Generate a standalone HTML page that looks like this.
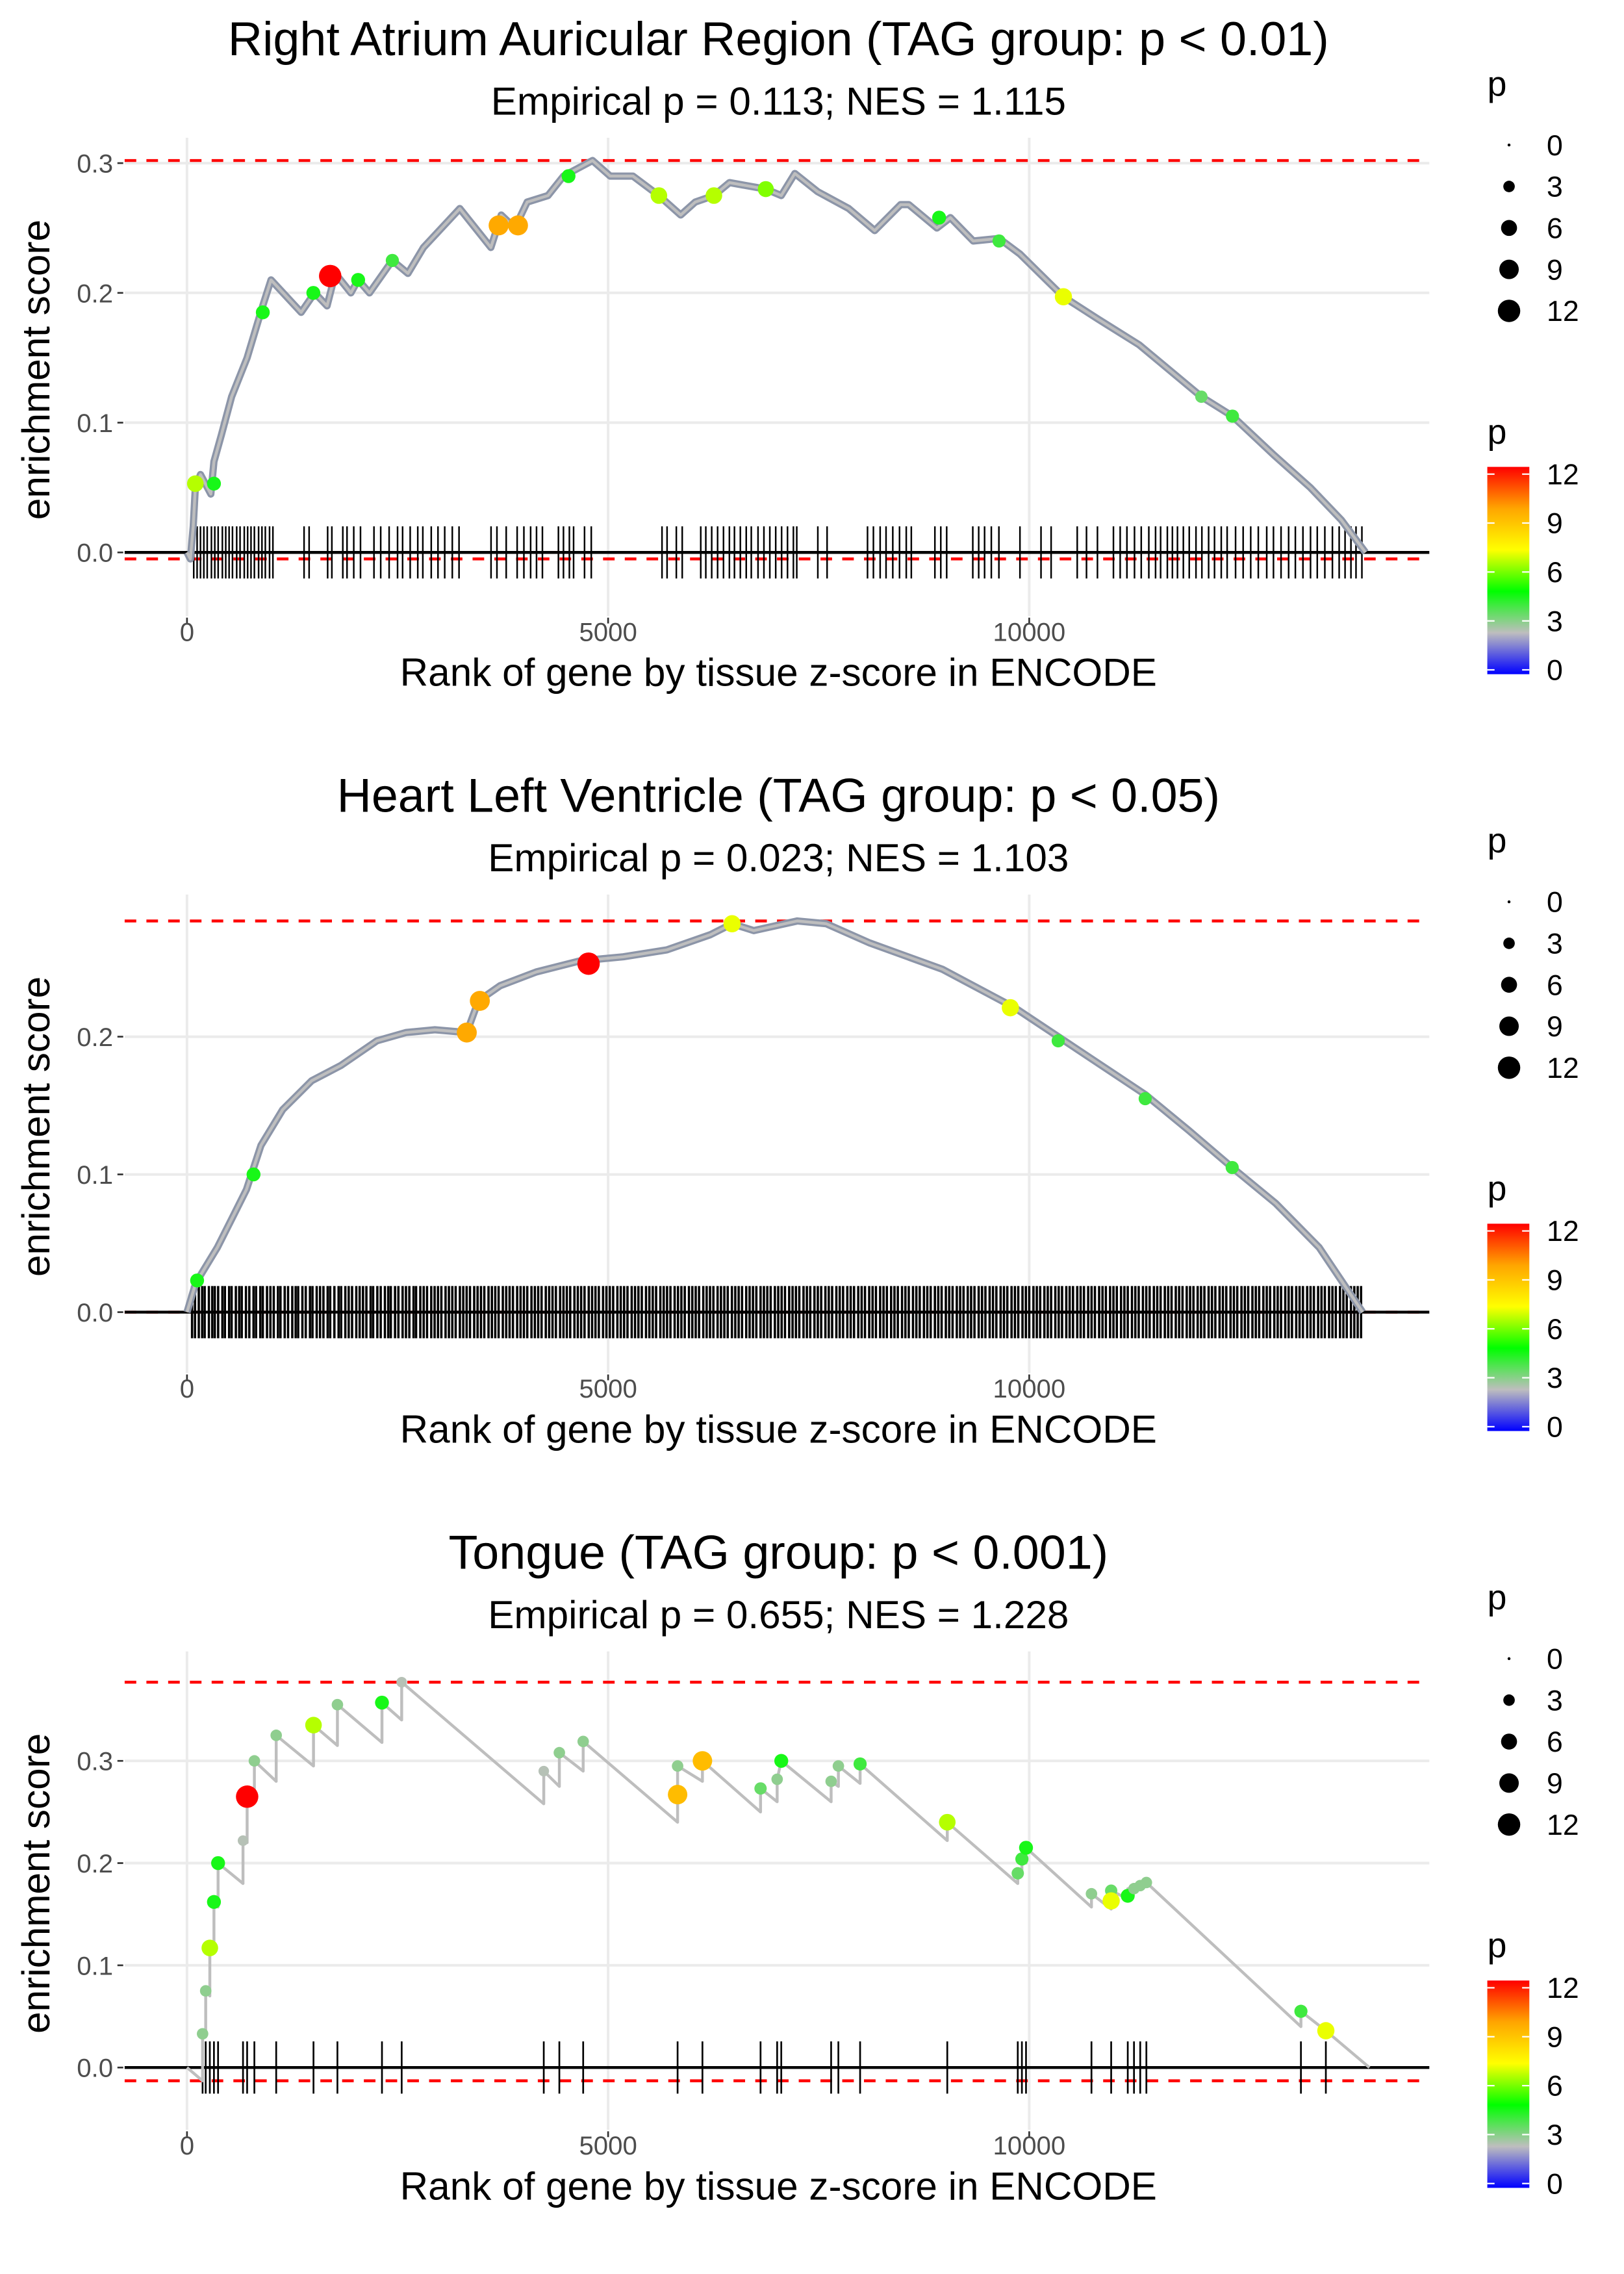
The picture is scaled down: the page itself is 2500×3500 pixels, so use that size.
<!DOCTYPE html>
<html><head><meta charset="utf-8"><style>
html,body{margin:0;padding:0;background:#fff;}
svg{display:block;font-family:"Liberation Sans",Arial,sans-serif;}
</style></head><body>
<svg id="chart" xmlns="http://www.w3.org/2000/svg" width="2500" height="3500" viewBox="0 0 1120.3 1568.4">
<defs>
<linearGradient id="pgrad" x1="0" y1="1" x2="0" y2="0">
<stop offset="0" stop-color="#0000ff"/><stop offset="0.2" stop-color="#bebebe"/><stop offset="0.4" stop-color="#00ff00"/><stop offset="0.6" stop-color="#ffff00"/><stop offset="0.8" stop-color="#ffa500"/><stop offset="1" stop-color="#ff0000"/>
</linearGradient>
</defs>
</svg>
<script>
// ---------- Panel 1: Right Atrium Auricular Region ----------
const p1PathRank = [0,40,74,99,160,283,320,406,530,714,899,998,1355,1515,1663,1761,1946,2032,2167,2438,2623,2808,3239,3608,3731,3892,4039,4286,4470,4815,5025,5295,5603,5862,6034,6256,6441,6872,7056,7217,7488,7857,8165,8473,8571,8904,9064,9335,9642,9889,10406,10812,11305,12044,12413,12906,13337,13706,13993];
const p1PathES = [0,-0.005,0.02,0.05,0.06,0.045,0.07,0.09,0.12,0.15,0.19,0.21,0.185,0.2,0.19,0.215,0.2,0.21,0.2,0.225,0.215,0.235,0.265,0.235,0.26,0.25,0.27,0.275,0.29,0.302,0.29,0.29,0.275,0.26,0.27,0.275,0.285,0.28,0.275,0.292,0.278,0.265,0.248,0.268,0.268,0.25,0.258,0.24,0.242,0.23,0.197,0.18,0.16,0.12,0.105,0.075,0.05,0.025,0];
const p1HitRank = [1700,3700,3930,10406,99,320,900,1500,2032,2438,4530,5603,6256,6872,8930,9642,12413,12044];
const p1HitES = [0.213,0.252,0.252,0.197,0.053,0.053,0.185,0.2,0.21,0.225,0.29,0.275,0.275,0.28,0.258,0.24,0.105,0.12];
const p1HitP = [12,9.5,9.5,7,6.5,4.5,4.5,4.5,4.5,4,4.5,6.5,6.5,6,4.5,4,4,3.5];
const p1Ticks = [80,120,160,200,240,290,330,370,420,460,500,540,590,630,680,720,760,800,850,890,930,980,1020,1390,1450,1670,1720,1850,1900,1980,2060,2220,2300,2400,2500,2560,2650,2740,2800,2900,2980,3060,3150,3230,3610,3680,3790,3920,4000,4080,4150,4220,4410,4470,4540,4590,4720,4800,5640,5700,5810,5880,6100,6160,6230,6300,6370,6440,6500,6570,6640,6700,6780,6850,6920,6990,7060,7130,7200,7240,7490,7600,8080,8150,8230,8300,8380,8460,8540,8600,8880,8950,9020,9330,9400,9470,9550,9640,9890,10140,10260,10570,10680,10810,11000,11080,11160,11250,11330,11420,11500,11560,11640,11700,11760,11830,11900,11980,12050,12130,12200,12280,12350,12450,12540,12630,12720,12820,12900,12990,13080,13160,13250,13340,13420,13510,13600,13680,13750,13820,13880,13950];
const p1YTicks = [0,0.1,0.2,0.3];

// ---------- Panel 2: Heart Left Ventricle ----------
const p2PathRank = [0,103,361,534,706,878,1136,1480,1825,2255,2599,2943,3322,3460,3718,4148,4664,5181,5697,6213,6472,6730,7246,7590,8107,8967,9828,10344,10861,11377,11893,12410,12926,13442,13959];
const p2PathES = [0,0.021,0.047,0.068,0.089,0.121,0.147,0.168,0.179,0.197,0.203,0.205,0.203,0.226,0.237,0.247,0.255,0.258,0.263,0.274,0.282,0.277,0.284,0.282,0.268,0.249,0.221,0.2,0.179,0.158,0.132,0.105,0.079,0.047,0];
const p2HitRank = [4768,3322,3477,6472,9776,120,790,10344,11377,12410];
const p2HitES = [0.253,0.203,0.226,0.282,0.221,0.023,0.1,0.197,0.155,0.105];
const p2HitP = [12,9.5,9.5,7,7,4.5,4.5,4,4,4];
const p2Ticks = [60,95,140,180,210,260,300,330,370,420,450,500,530,580,620,650,700,740,790,820,870,900,950,990,1030,1080,1110,1160,1200,1250,1290,1320,1370,1410,1460,1490,1540,1580,1620,1670,1700,1750,1800,1830,1880,1920,1960,2010,2050,2090,2130,2180,2210,2260,2300,2350,2390,2420,2470,2510,2560,2600,2640,2690,2720,2770,2810,2850,2900,2940,2980,3020,3070,3110,3150,3190,3240,3280,3320,3360,3410,3450,3490,3530,3580,3620,3660,3700,3750,3790,3830,3870,3920,3960,4000,4040,4090,4130,4170,4210,4260,4300,4340,4380,4430,4470,4510,4550,4600,4640,4680,4720,4770,4810,4850,4890,4940,4980,5020,5060,5110,5150,5190,5230,5280,5320,5360,5400,5450,5490,5530,5570,5620,5660,5700,5740,5790,5830,5870,5910,5960,6000,6040,6080,6130,6170,6210,6250,6300,6340,6380,6420,6470,6510,6550,6590,6640,6680,6720,6760,6810,6850,6890,6930,6980,7020,7060,7100,7150,7190,7230,7270,7320,7360,7400,7450,7490,7530,7580,7620,7660,7710,7750,7790,7840,7880,7920,7970,8010,8050,8100,8140,8180,8230,8270,8310,8360,8400,8440,8490,8530,8570,8620,8660,8700,8750,8790,8830,8880,8920,8960,9010,9050,9090,9140,9180,9220,9270,9310,9350,9400,9440,9480,9530,9570,9610,9660,9700,9740,9790,9830,9870,9920,9960,10000,10050,10090,10130,10180,10220,10260,10310,10350,10390,10440,10480,10520,10570,10610,10650,10700,10740,10780,10830,10870,10910,10960,11000,11040,11090,11130,11170,11220,11260,11300,11350,11390,11430,11480,11520,11560,11610,11650,11690,11740,11780,11820,11870,11910,11950,12000,12040,12080,12130,12170,12210,12260,12300,12340,12390,12430,12470,12520,12560,12600,12650,12690,12730,12780,12820,12860,12910,12950,12990,13040,13080,13120,13170,13210,13250,13300,13340,13380,13430,13470,13510,13560,13600,13640,13690,13730,13770,13820,13860,13900,13940];
const p2YTicks = [0,0.1,0.2];

// ---------- Panel 3: Tongue ----------
const p3PathRank = [0,185,185,222,222,271,271,320,320,369,369,665,665,714,714,800,800,1059,1059,1502,1502,1786,1786,2315,2315,2549,2549,4236,4236,4421,4421,4704,4704,5825,5825,6120,6120,6810,6810,7007,7007,7056,7648,7648,7734,7734,7992,7992,9027,9027,9864,9864,9913,9913,9962,9962,10739,10739,10973,10973,11170,11170,11244,11318,11391,13226,13226,13522,14039];
const p3PathES = [0,-0.013,0.033,0.03,0.075,0.07,0.117,0.112,0.162,0.157,0.2,0.18,0.222,0.22,0.265,0.26,0.3,0.28,0.325,0.295,0.335,0.315,0.355,0.318,0.357,0.34,0.377,0.258,0.29,0.275,0.308,0.29,0.319,0.24,0.295,0.28,0.3,0.25,0.273,0.26,0.282,0.3,0.26,0.28,0.275,0.295,0.278,0.297,0.222,0.24,0.18,0.19,0.188,0.204,0.2,0.215,0.157,0.17,0.155,0.173,0.165,0.175,0.175,0.178,0.181,0.04,0.055,0.036,0];
const p3HitRank = [185,222,271,320,369,665,714,800,1059,1502,1786,2315,2549,4236,4421,4704,5825,5825,6120,6810,7007,7056,7648,7734,7992,9027,9864,9913,9962,10739,10973,10973,11170,11244,11318,11391,13226,13522];
const p3HitES = [0.033,0.075,0.117,0.162,0.2,0.222,0.265,0.3,0.325,0.335,0.355,0.357,0.377,0.29,0.308,0.319,0.267,0.295,0.3,0.273,0.282,0.3,0.28,0.295,0.297,0.24,0.19,0.204,0.215,0.17,0.173,0.163,0.168,0.175,0.178,0.181,0.055,0.036];
const p3HitP = [3,3,6.5,4.5,4.5,2.5,12,3,3,6.5,3,4.5,2.5,2.5,3,3,9,3,9,3.5,3,4.5,3,3,4,6.5,3.5,4,4.5,3,3.5,7,4.5,3,3,3,4,7];
const p3Ticks = [185,222,271,320,369,665,714,800,1059,1502,1786,2315,2549,4236,4421,4704,5825,6120,6810,7007,7056,7648,7734,7992,9027,9864,9913,9962,10739,10973,11170,11244,11318,11391,13226,13522];
const p3YTicks = [0,0.1,0.2,0.3];

const titles = ["Right Atrium Auricular Region (TAG group: p < 0.01)","Heart Left Ventricle (TAG group: p < 0.05)","Tongue (TAG group: p < 0.001)"];
const subtitles = ["Empirical p = 0.113; NES = 1.115","Empirical p = 0.023; NES = 1.103","Empirical p = 0.655; NES = 1.228"];
const xTickVals = [0,5000,10000];
const sizeLegendVals = [0,3,6,9,12];
const colorLegendVals = [0,3,6,9,12];

const NS = "http://www.w3.org/2000/svg";
const svg = document.getElementById('chart');
function mk(tag, attrs, parent){const e=document.createElementNS(NS,tag);for(const k in attrs)e.setAttribute(k,attrs[k]);(parent||svg).appendChild(e);return e;}

const stops=[[0,[0,0,255]],[0.2,[190,190,190]],[0.4,[0,255,0]],[0.6,[255,255,0]],[0.8,[255,165,0]],[1,[255,0,0]]];
function pColor(p){const t=Math.max(0,Math.min(1,p/12));for(let i=1;i<stops.length;i++){if(t<=stops[i][0]){const a=stops[i-1],b=stops[i];const f=(t-a[0])/(b[0]-a[0]);const c=a[1].map((v,j)=>Math.round(v+(b[1][j]-v)*f));return `rgb(${c.join(',')})`;}}return 'rgb(255,0,0)';}
function pRadius(p){return Math.sqrt(1+p*4.9);}

const xScale = r => 129 + r*0.0581;
const panels = [
 {off:0,   y0:381, k:895, path:[p1PathRank,p1PathES], hit:[p1HitRank,p1HitES,p1HitP], ticks:p1Ticks, yt:p1YTicks, dense:true, tw:1.1},
 {off:522, y0:383, k:950, path:[p2PathRank,p2PathES], hit:[p2HitRank,p2HitES,p2HitP], ticks:p2Ticks, yt:p2YTicks, dense:true, tw:1.6},
 {off:1044,y0:382, k:705, path:[p3PathRank,p3PathES], hit:[p3HitRank,p3HitES,p3HitP], ticks:p3Ticks, yt:p3YTicks, dense:false, tw:1.2}
];

panels.forEach((P,i)=>{
  const o=P.off;
  const g=mk('g',{});
  
  
  const yS = v => o + P.y0 - v*P.k;
  const t=mk('text',{x:537,y:o+38,'text-anchor':'middle','font-size':33,fill:'#000'},g);t.textContent=titles[i];
  
  
  const st=mk('text',{x:537,y:o+79,'text-anchor':'middle','font-size':27,fill:'#000'},g);st.textContent=subtitles[i];
  
  
  const top=o+95, bot=o+425;
  P.yt.forEach(v=>{
    const l=mk('line',{x1:86,x2:986,y1:yS(v),y2:yS(v),stroke:'#ebebeb','stroke-width':1.8},g);
    
    
    mk('line',{x1:81,x2:85,y1:yS(v),y2:yS(v),stroke:'#333','stroke-width':1.2},g);
    const tl=mk('text',{x:78,y:yS(v)+6.5,'text-anchor':'end','font-size':18,fill:'#4d4d4d'},g);tl.textContent=v.toFixed(1);
    
    
  });
  xTickVals.forEach(v=>{
    const l=mk('line',{x1:xScale(v),x2:xScale(v),y1:top,y2:bot,stroke:'#ebebeb','stroke-width':1.8},g);
    
    
    mk('line',{x1:xScale(v),x2:xScale(v),y1:bot+1,y2:bot+5,stroke:'#333','stroke-width':1.2},g);
    const tl=mk('text',{x:xScale(v),y:o+442,'text-anchor':'middle','font-size':18,fill:'#4d4d4d'},g);tl.textContent=v;
    
    
  });
  const es=P.path[1];
  const mx=Math.max(...es), mn=Math.min(...es);
  [mx,mn].forEach((v,j)=>{
    const l=mk('line',{x1:86,x2:986,y1:yS(v),y2:yS(v),stroke:'#ff0000','stroke-width':2,'stroke-dasharray':'8,7'},g);
    
    
  });
  P.ticks.forEach(r=>{
    const l=mk('line',{x1:xScale(r),x2:xScale(r),y1:yS(0)-18,y2:yS(0)+18,stroke:'#000','stroke-width':P.tw},g);
    
    
  });
  const zl=mk('line',{x1:86,x2:986,y1:yS(0),y2:yS(0),stroke:'#000','stroke-width':2},g);
  
  
  const pts=P.path[0].map((r,j)=>xScale(r).toFixed(2)+','+yS(es[j]).toFixed(2)).join(' ');
  if(P.dense){
    const under=mk('polyline',{points:pts,fill:'none',stroke:'#8c95a8','stroke-width':5,'stroke-linejoin':'round'},g);
    
    
  }
  const cl=mk('polyline',{points:pts,fill:'none',stroke:'#bebebe','stroke-width':2,'stroke-linejoin':'round'},g);
  
  
  const [hr,he,hp]=P.hit;
  hr.forEach((r,j)=>{
    const c=mk('circle',{cx:xScale(r),cy:yS(he[j]),r:pRadius(hp[j]),fill:pColor(hp[j])},g);
    
    
  });
  const xt=mk('text',{x:537,y:o+473,'text-anchor':'middle','font-size':27,fill:'#000'},g);xt.textContent='Rank of gene by tissue z-score in ENCODE';
  
  
  const yt=mk('text',{x:0,y:0,'text-anchor':'middle','font-size':27,fill:'#000',transform:`translate(34,${o+255}) rotate(-90)`},g);yt.textContent='enrichment score';
  
  
  const sl=mk('g',{},g);
  
  
  const s1=mk('text',{x:1026,y:o+66,'font-size':24,fill:'#000'},sl);s1.textContent='p';
  sizeLegendVals.forEach((v,j)=>{
    const cy=o+100+j*28.6;
    const c=mk('circle',{cx:1041,cy:cy,r:pRadius(v),fill:'#000'},sl);
    
    
    const tx=mk('text',{x:1067,y:cy+7,'font-size':20,fill:'#000'},sl);tx.textContent=v;
  });
  const cg=mk('g',{},g);
  
  
  const s2=mk('text',{x:1026,y:o+306,'font-size':24,fill:'#000'},cg);s2.textContent='p';
  const bar=mk('rect',{x:1026,y:o+322,width:29,height:143,fill:'url(#pgrad)'},cg);
  
  
  colorLegendVals.forEach(v=>{
    const yy=o+462-v*(135/12);
    mk('line',{x1:1026,x2:1031,y1:yy,y2:yy,stroke:'#fff','stroke-width':1},cg);
    mk('line',{x1:1050,x2:1055,y1:yy,y2:yy,stroke:'#fff','stroke-width':1},cg);
    const tx=mk('text',{x:1067,y:yy+7,'font-size':20,fill:'#000'},cg);tx.textContent=v;
  });
});
</script>
</body></html>
